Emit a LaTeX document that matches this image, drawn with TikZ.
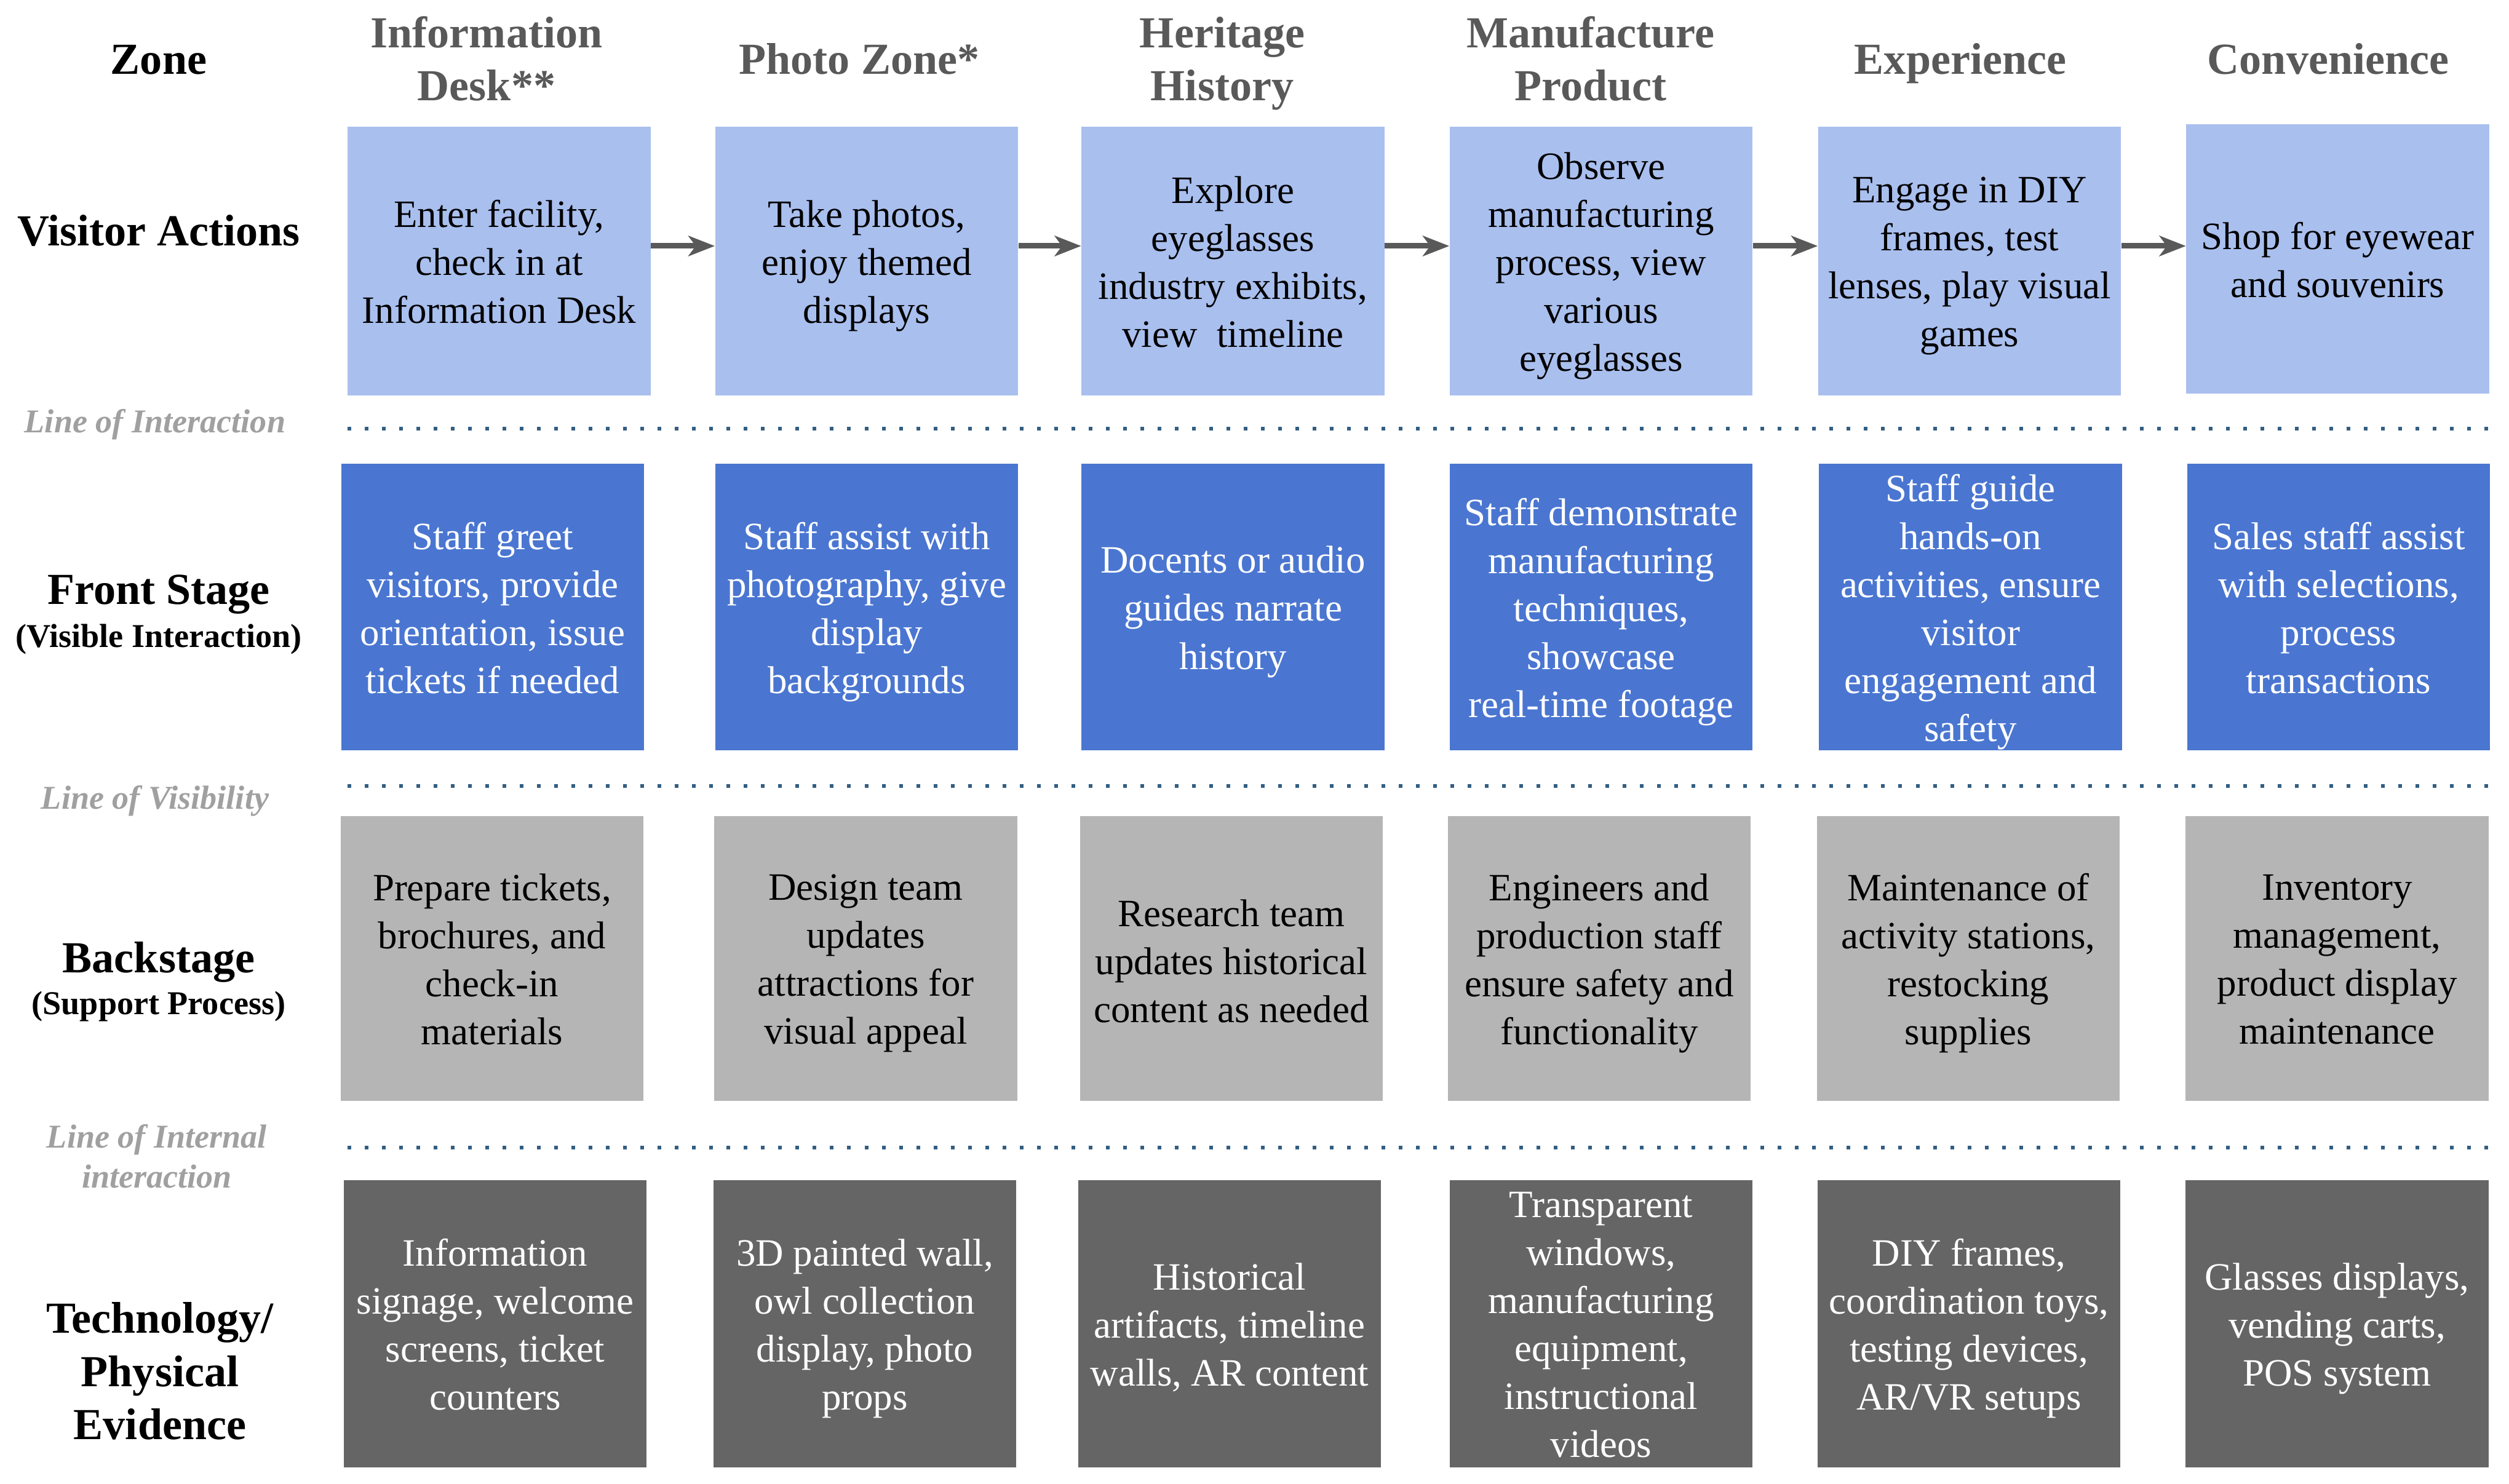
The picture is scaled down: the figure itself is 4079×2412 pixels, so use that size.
\documentclass[tikz,border=0pt]{standalone}
\usepackage{fontspec}
\setmainfont{Liberation Serif}
\usetikzlibrary{arrows.meta}
\definecolor{lblue}{HTML}{A9BFEE}
\definecolor{mblue}{HTML}{4A76D1}
\definecolor{lgray}{HTML}{B5B5B5}
\definecolor{dgray}{HTML}{656565}
\definecolor{hgray}{HTML}{595959}
\definecolor{lgtext}{HTML}{A0A0A0}
\definecolor{arrowgray}{HTML}{595959}
\definecolor{dotblue}{HTML}{335E82}
\newcommand\cstrut{\rule[-3.9pt]{0pt}{20pt}}
\newcommand\hstrut{\rule[-4.5pt]{0pt}{23pt}}
\newcommand\sstrut{\rule[-3.4pt]{0pt}{17.4pt}}
\tikzset{
 cellbase/.style={rectangle, inner sep=0pt, minimum width=4.92cm, align=center, font=\fontsize{17.9}{22.2}\selectfont, execute at begin node=\cstrut, execute at end node=\cstrut},
 celltext/.style={cellbase, yshift=-0.08cm},
 va/.style={cellbase, fill=lblue, minimum height=4.37cm},
 fs/.style={cellbase, fill=mblue, minimum height=4.66cm},
 bs/.style={cellbase, fill=lgray, minimum height=4.63cm},
 te/.style={cellbase, fill=dgray, minimum height=4.67cm},
 darktext/.style={celltext, text=black},
 lighttext/.style={celltext, text=white},
 hdr/.style={font=\bfseries\fontsize{20.5}{24.5}\selectfont, text=hgray, align=center, inner sep=0pt, execute at begin node=\hstrut, execute at end node=\hstrut},
 rowlab/.style={font=\bfseries\fontsize{20.5}{24.5}\selectfont, text=black, align=center, inner sep=0pt, execute at begin node=\hstrut, execute at end node=\hstrut},
 sublab/.style={font=\bfseries\fontsize{15.4}{18.5}\selectfont, text=black, inner sep=0pt, execute at begin node=\sstrut, execute at end node=\sstrut},
 linelab/.style={font=\bfseries\itshape\fontsize{15.4}{18.5}\selectfont, text=lgtext, align=center, inner sep=0pt, execute at begin node=\sstrut, execute at end node=\sstrut},
 flow/.style={draw=arrowgray, line width=0.09cm, -{Stealth[length=0.43cm, width=0.33cm, inset=0.12cm]}},
 sepline/.style={draw=dotblue, line width=0.06cm, dash pattern=on 0.06cm off 0.22cm},
}
\begin{document}
\begin{tikzpicture}[x=0.01cm, y=-0.01cm]
\useasboundingbox (0,0) rectangle (4079,2412);

% headers
\node[rowlab] (hzone) at (258,96) {Zone};
\node[hdr] (h1) at (791,103) {Information\\Desk**};
\node[hdr] (h2) at (1397,96) {Photo Zone*};
\node[hdr] (h3) at (1987,103) {Heritage\\History};
\node[hdr] (h4) at (2586,103) {Manufacture\\Product};
\node[hdr] (h5) at (3187,96) {Experience};
\node[hdr] (h6) at (3785,96) {Convenience};

% row labels
\node[rowlab] (rva) at (258,375) {Visitor Actions};
\node[rowlab] (rfs) at (258,958) {Front Stage};
\node[sublab] (rfs2) at (258,1034) {(Visible Interaction)};
\node[rowlab] (rbs) at (258,1557) {Backstage};
\node[sublab] (rbs2) at (258,1631) {(Support Process)};
\node[rowlab] (rte) at (260,2237) {Technology/\\Physical\\Evidence};

% line labels
\node[linelab] (l1) at (252,685) {Line of Interaction};
\node[linelab] (l2) at (252,1297) {Line of Visibility};
\node[linelab] (l3) at (255,1886) {Line of Internal\\interaction};

% row 1: visitor actions
\node[va] (a1) at (811.5,424.5) {};
\node[va] (a2) at (1409,424.5) {};
\node[va] (a3) at (2004.5,424.5) {};
\node[va] (a4) at (2603,424.5) {};
\node[va] (a5) at (3202,424.5) {};
\node[va] (a6) at (3800.5,421) {};
\node[darktext] (a1t) at (a1) {Enter facility,\\check in at\\Information Desk};
\node[darktext] (a2t) at (a2) {Take photos,\\enjoy themed\\displays};
\node[darktext] (a3t) at (a3) {Explore\\eyeglasses\\industry exhibits,\\view\ \ timeline};
\node[darktext] (a4t) at (a4) {Observe\\manufacturing\\process, view\\various\\eyeglasses};
\node[darktext] (a5t) at (a5) {Engage in DIY\\frames, test\\lenses, play visual\\games};
\node[darktext] (a6t) at (a6) {Shop for eyewear\\and souvenirs};

% row 2: front stage
\node[fs] (f1) at (801,987) {};
\node[fs] (f2) at (1409,987) {};
\node[fs] (f3) at (2004.5,987) {};
\node[fs] (f4) at (2603,987) {};
\node[fs] (f5) at (3203.5,987) {};
\node[fs] (f6) at (3802,987) {};
\node[lighttext] (f1t) at (f1) {Staff greet\\visitors, provide\\orientation, issue\\tickets if needed};
\node[lighttext] (f2t) at (f2) {Staff assist with\\photography, give\\display\\backgrounds};
\node[lighttext] (f3t) at (f3) {Docents or audio\\guides narrate\\history};
\node[lighttext] (f4t) at (f4) {Staff demonstrate\\manufacturing\\techniques,\\showcase\\real-time footage};
\node[lighttext] (f5t) at (f5) {Staff guide\\hands-on\\activities, ensure\\visitor\\engagement and\\safety};
\node[lighttext] (f6t) at (f6) {Sales staff assist\\with selections,\\process\\transactions};

% row 3: backstage
\node[bs] (b1) at (800,1558.5) {};
\node[bs] (b2) at (1407.5,1558.5) {};
\node[bs] (b3) at (2002,1558.5) {};
\node[bs] (b4) at (2600,1558.5) {};
\node[bs] (b5) at (3200,1558.5) {};
\node[bs] (b6) at (3799.5,1558.5) {};
\node[darktext] (b1t) at (b1) {Prepare tickets,\\brochures, and\\check-in\\materials};
\node[darktext] (b2t) at (b2) {Design team\\updates\\attractions for\\visual appeal};
\node[darktext, yshift=-0.03cm] (b3t) at (b3) {Research team\\updates historical\\content as needed};
\node[darktext] (b4t) at (b4) {Engineers and\\production staff\\ensure safety and\\functionality};
\node[darktext] (b5t) at (b5) {Maintenance of\\activity stations,\\restocking\\supplies};
\node[darktext] (b6t) at (b6) {Inventory\\management,\\product display\\maintenance};

% row 4: technology / physical evidence
\node[te] (t1) at (805,2152.5) {};
\node[te] (t2) at (1406,2152.5) {};
\node[te] (t3) at (1999,2152.5) {};
\node[te] (t4) at (2603,2152.5) {};
\node[te] (t5) at (3201,2152.5) {};
\node[te] (t6) at (3799.5,2152.5) {};
\node[lighttext] (t1t) at (t1) {Information\\signage, welcome\\screens, ticket\\counters};
\node[lighttext] (t2t) at (t2) {3D painted wall,\\owl collection\\display, photo\\props};
\node[lighttext] (t3t) at (t3) {Historical\\artifacts, timeline\\walls, AR content};
\node[lighttext] (t4t) at (t4) {Transparent\\windows,\\manufacturing\\equipment,\\instructional\\videos};
\node[lighttext] (t5t) at (t5) {DIY frames,\\coordination toys,\\testing devices,\\AR/VR setups};
\node[lighttext] (t6t) at (t6) {Glasses displays,\\vending carts,\\POS system};

% flow arrows
\draw[flow] ([yshift=0.245cm]a1.east) -- ([yshift=0.245cm]a1.east -| a2.west);
\draw[flow] ([yshift=0.245cm]a2.east) -- ([yshift=0.245cm]a2.east -| a3.west);
\draw[flow] ([yshift=0.245cm]a3.east) -- ([yshift=0.245cm]a3.east -| a4.west);
\draw[flow] ([yshift=0.245cm]a4.east) -- ([yshift=0.245cm]a4.east -| a5.west);
\draw[flow] ([yshift=0.245cm]a5.east) -- ([yshift=0.245cm]a5.east -| a6.west);

% separator lines
\coordinate (s1a) at (565,697);  \coordinate (s1b) at (4047,697);
\coordinate (s2a) at (565,1278); \coordinate (s2b) at (4047,1278);
\coordinate (s3a) at (565,1866); \coordinate (s3b) at (4047,1866);
\draw[sepline] (s1a) -- (s1b);
\draw[sepline] (s2a) -- (s2b);
\draw[sepline] (s3a) -- (s3b);
\end{tikzpicture}
\end{document}
